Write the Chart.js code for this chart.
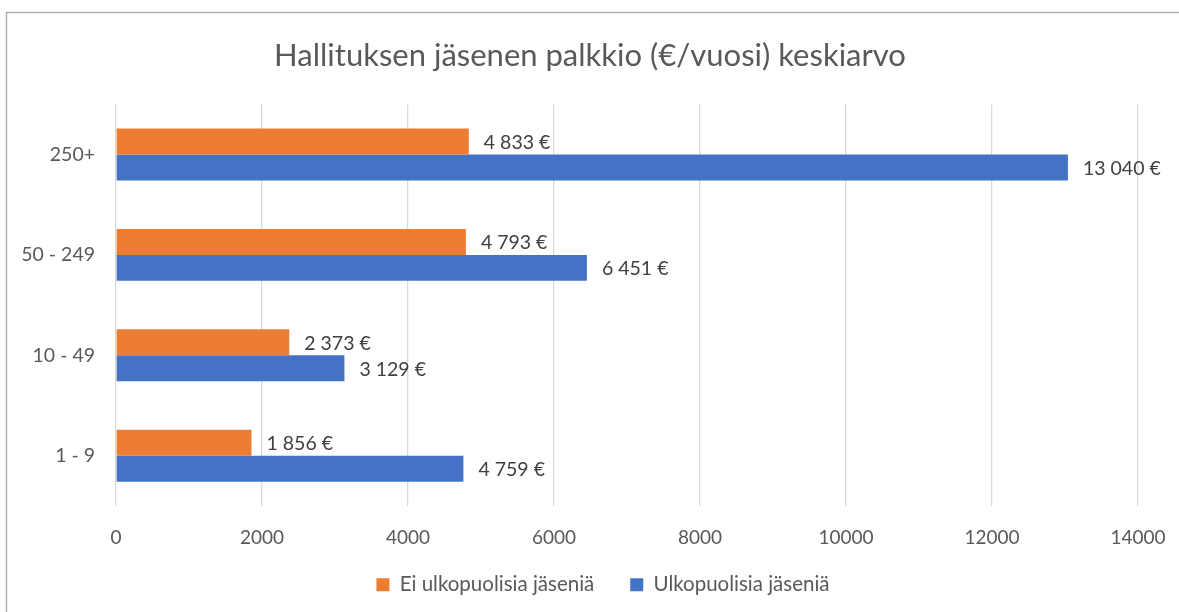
<!DOCTYPE html>
<html>
<head>
<meta charset="utf-8">
<script src="https://cdn.jsdelivr.net/npm/chart.js@4"></script>
<style>
  html, body { margin: 0; padding: 0; background: #fff; }
  canvas { display: block; }
</style>
</head>
<body>
<canvas id="myChart" width="1179" height="612"></canvas>
<script>
// Yrityskoon ryhmät ja keskiarvot
var categories = ['250+', '50 - 249', '10 - 49', '1 - 9'];
var eiUlkopuolisia = [4833, 4793, 2373, 1856];
var ulkopuolisia = [13040, 6451, 3129, 4759];
var xTicks = [0, 2000, 4000, 6000, 8000, 10000, 12000, 14000];

var FONT = 'Lato, "Open Sans", sans-serif';

function euro(v) {
  return String(v).replace(/\B(?=(\d{3})+(?!\d))/g, ' ') + ' €';
}

// arvot palkkien perään
var valueLabels = {
  id: 'valueLabels',
  afterDatasetsDraw: function (chart) {
    var ctx = chart.ctx;
    ctx.save();
    ctx.font = '19.5px ' + FONT;
    ctx.fillStyle = '#404040';
    ctx.textAlign = 'left';
    ctx.textBaseline = 'middle';
    chart.data.datasets.forEach(function (ds, i) {
      chart.getDatasetMeta(i).data.forEach(function (bar, j) {
        ctx.fillText(euro(ds.data[j]), bar.x + 15, bar.y + 1);
      });
    });
    ctx.restore();
  }
};

// harmaa kehys kaavion ympärillä
var frame = {
  id: 'frame',
  beforeDraw: function (chart) {
    var ctx = chart.ctx;
    ctx.save();
    ctx.strokeStyle = '#b0b0b0';
    ctx.lineWidth = 1.5;
    ctx.strokeRect(6.5, 12.5, 1200, 700);
    ctx.restore();
  }
};

// otsikko ja selite keskitetään koko kehyksen leveydelle
function moveBox(box, dx, dy) {
  box.left += dx;
  box.right += dx;
  box.top += dy;
  box.bottom += dy;
}
var boxShift = {
  id: 'boxShift',
  afterLayout: function (chart) {
    moveBox(chart.titleBlock, 21, 0);
    moveBox(chart.legend, 34, -7);
  }
};

var ctx = document.getElementById('myChart').getContext('2d');
var chart = new Chart(ctx, {
  type: 'bar',
  data: {
    labels: categories,
    datasets: [
      {
        label: 'Ei ulkopuolisia jäseniä',
        data: eiUlkopuolisia,
        backgroundColor: '#ED7D31',
        borderWidth: 0,
      },
      {
        label: 'Ulkopuolisia jäseniä',
        data: ulkopuolisia,
        backgroundColor: '#4472C4',
        borderWidth: 0,
      },
    ]
  },
  options: {
    indexAxis: 'y',
    responsive: false,
    animation: false,
    categoryPercentage: 0.517,
    barPercentage: 1,
    layout: {
      padding: { left: 0, right: 41, top: 0, bottom: 0 }
    },
    scales: {
      x: {
        min: 0,
        max: 14000,
        afterBuildTicks: function (scale) {
          scale.ticks = xTicks.map(function (v) { return { value: v }; });
        },
        afterFit: function (scale) { scale.height = 39.5; },
        // näkymättömät tikit antavat väliä luvuille
        grid: { color: '#d9d9d9', lineWidth: 1.3, drawTicks: true, tickLength: 17, tickColor: 'rgba(0,0,0,0)' },
        border: { display: false },
        ticks: {
          padding: 3,
          color: '#595959',
          font: { family: FONT, size: 19 },
          callback: function (v) { return String(v); }
        }
      },
      y: {
        afterFit: function (scale) { scale.width = 116; },
        grid: { display: false, drawTicks: false },
        border: { display: false },
        ticks: {
          padding: 21,
          color: '#595959',
          font: { family: FONT, size: 19.5 }
        }
      }
    },
    plugins: {
      title: {
        display: true,
        text: 'Hallituksen jäsenen palkkio (€/vuosi) keskiarvo',
        color: '#595959',
        font: { family: FONT, size: 31, weight: 'normal' },
        padding: { top: 37, bottom: 30 }
      },
      legend: {
        display: true,
        position: 'bottom',
        labels: {
          boxWidth: 13,
          boxHeight: 13,
          padding: 36,
          color: '#595959',
          font: { family: FONT, size: 20.5 }
        }
      },
      tooltip: { enabled: false }
    }
  },
  plugins: [frame, valueLabels, boxShift]
});
</script>
</body>
</html>
